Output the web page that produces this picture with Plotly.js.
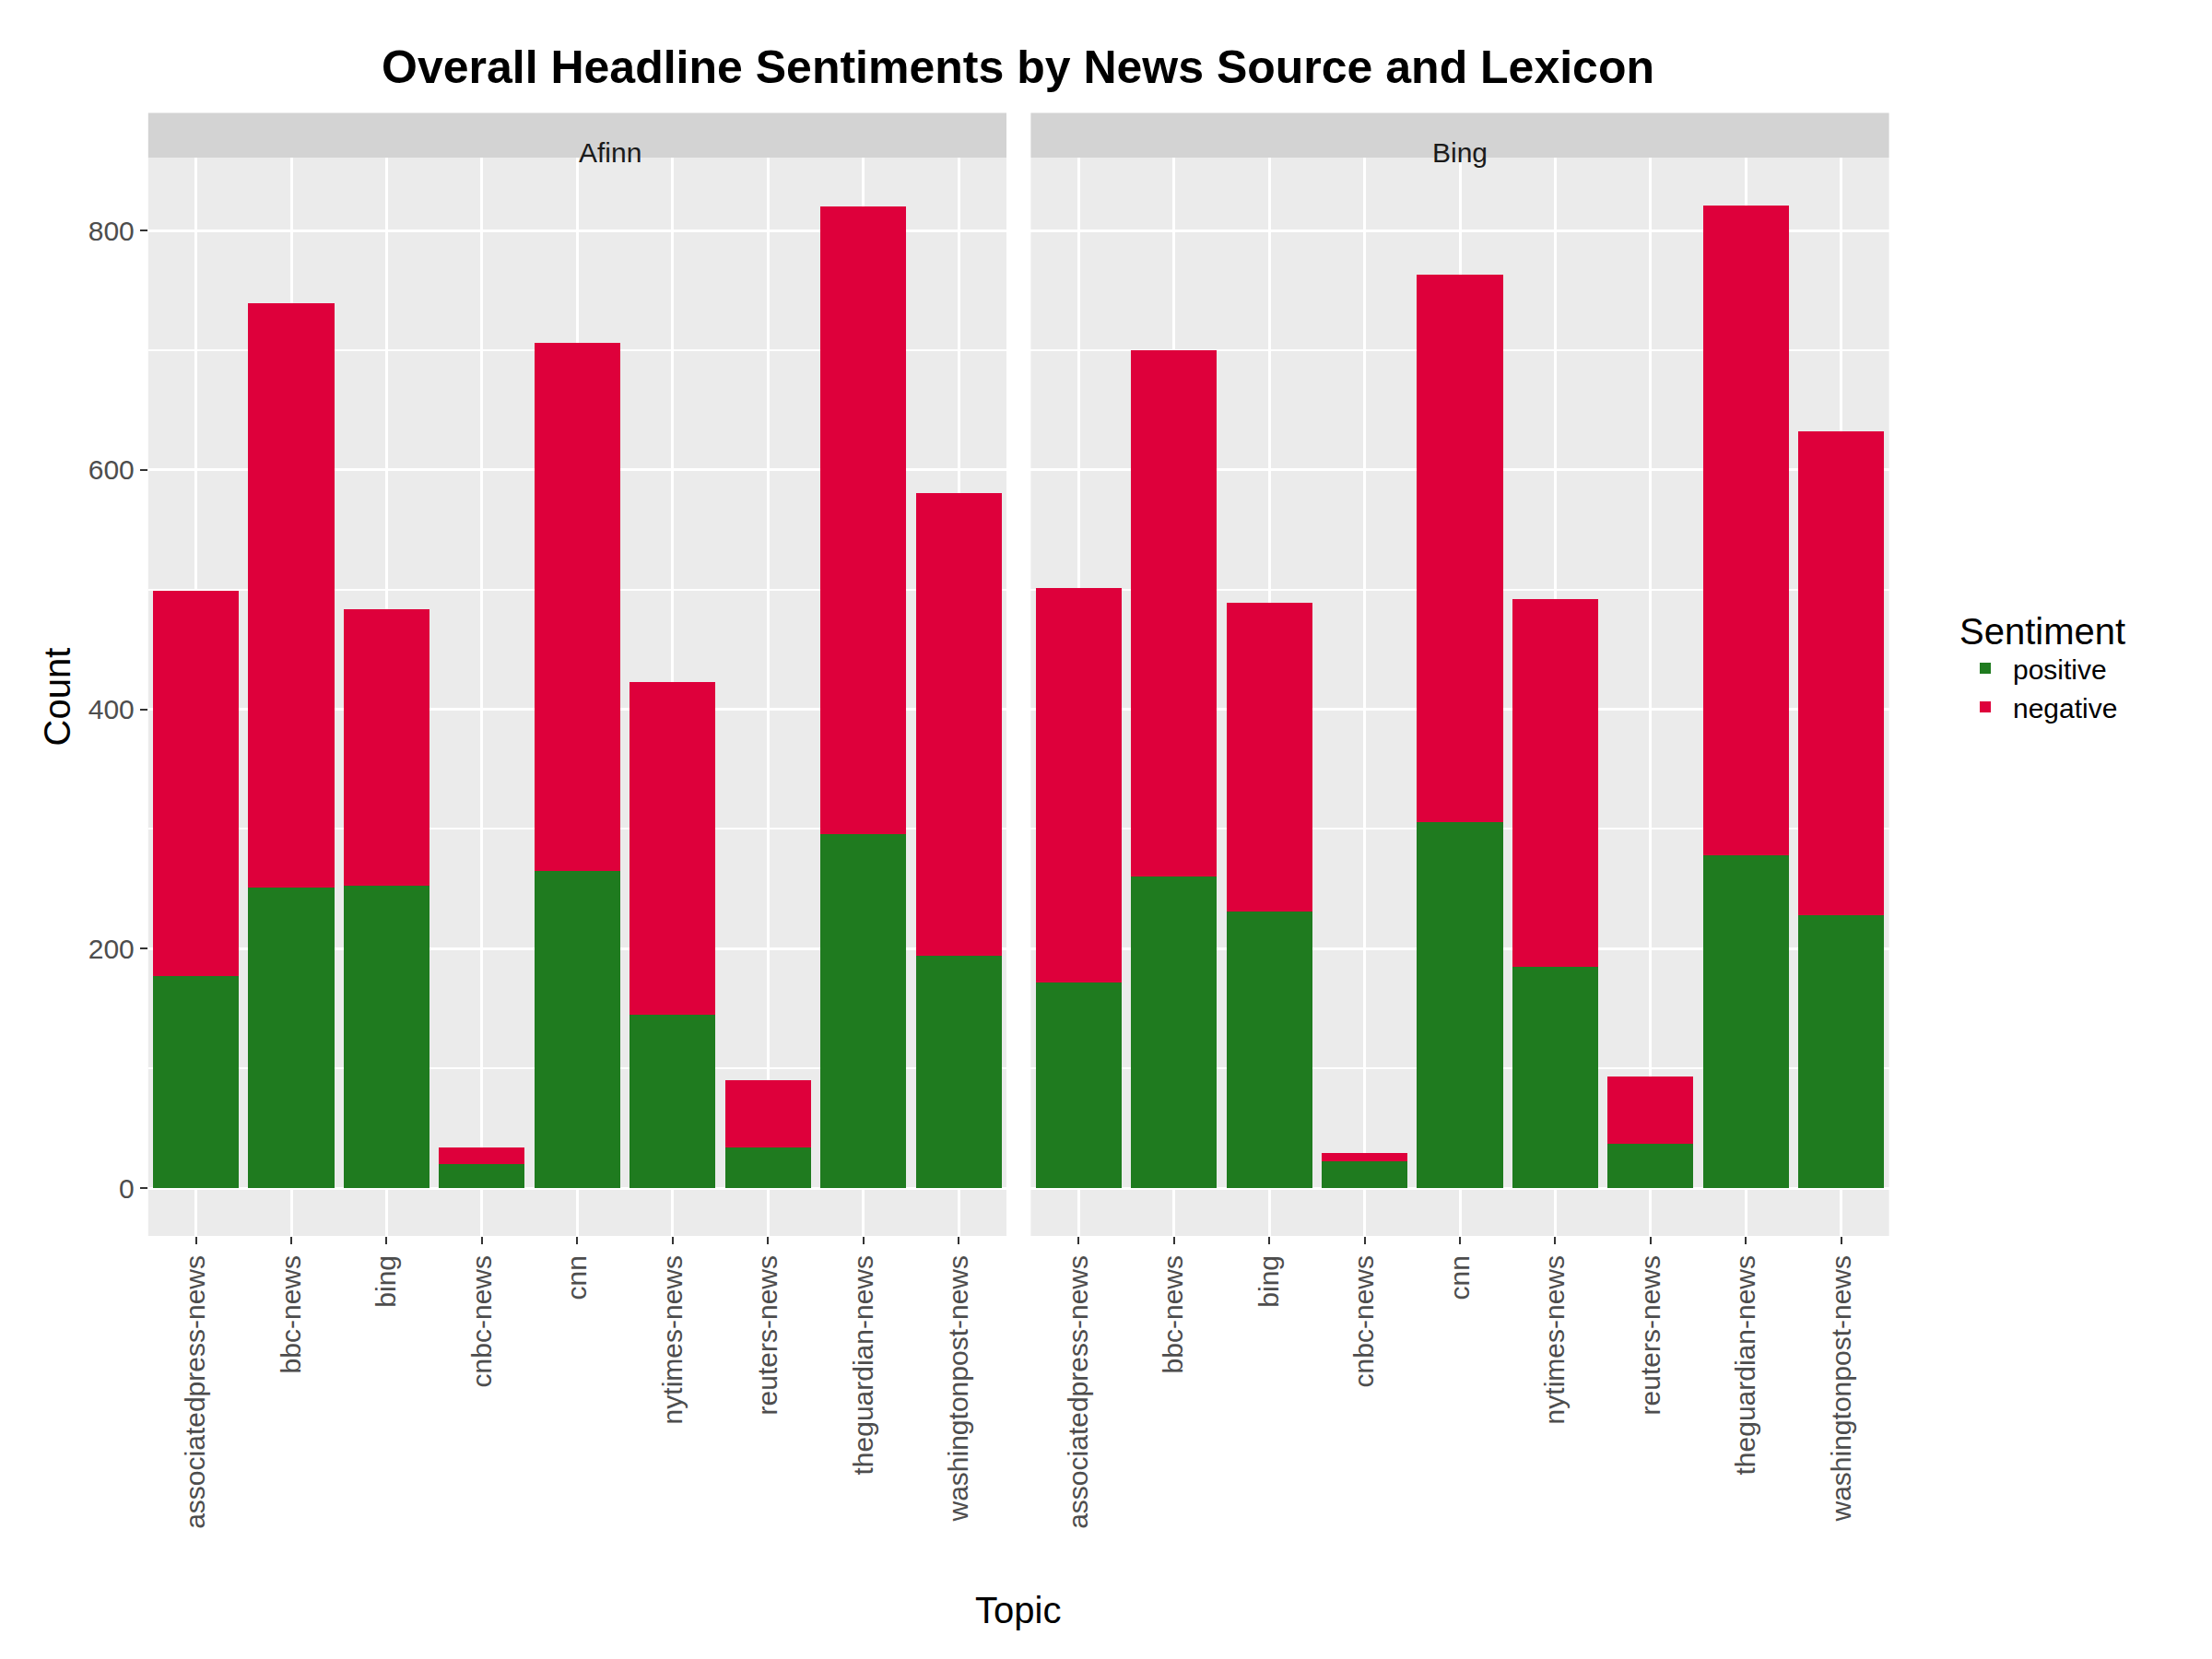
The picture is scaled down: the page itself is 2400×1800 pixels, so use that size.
<!DOCTYPE html>
<html>
<head>
<meta charset="utf-8">
<script src="https://cdn.plot.ly/plotly-3.0.1.min.js"></script>
<style>body{margin:0;background:#fff}#chart{width:2400px;height:1800px}</style>
</head>
<body>
<div id="chart"></div>
<script>
var topics = ["associatedpress-news","bbc-news","bing","cnbc-news","cnn","nytimes-news","reuters-news","theguardian-news","washingtonpost-news"];
var afinn_positive = [177, 251, 253, 20, 265, 145, 34, 296, 194];
var afinn_total    = [499, 739, 484, 34, 706, 423, 90, 820, 581];
var bing_positive  = [172, 260, 231, 22, 306, 185, 37, 278, 228];
var bing_total     = [501, 700, 489, 29, 763, 492, 93, 821, 632];

var green = "#1F7B1F", red = "#DE003B";
var font = "Liberation Sans, Arial, sans-serif";

function neg(total, pos) { return total.map(function (t, i) { return t - pos[i]; }); }

var data = [
    {type:'bar', x:topics, y:afinn_positive, name:'positive', marker:{color:green}, xaxis:'x', yaxis:'y', legendgroup:'p'},
    {type:'bar', x:topics, y:neg(afinn_total, afinn_positive), name:'negative', marker:{color:red}, xaxis:'x', yaxis:'y', legendgroup:'n'},
    {type:'bar', x:topics, y:bing_positive, name:'positive', marker:{color:green}, xaxis:'x2', yaxis:'y2', legendgroup:'p', showlegend:false},
    {type:'bar', x:topics, y:neg(bing_total, bing_positive), name:'negative', marker:{color:red}, xaxis:'x2', yaxis:'y2', legendgroup:'n', showlegend:false}
];

var xax = {
    type:'category', showgrid:true, gridcolor:'#fff', gridwidth:3, zeroline:false,
    tickangle:-90, ticks:'outside', ticklen:8, tickcolor:'#333', tickwidth:2,
    tickfont:{family:font, size:30, color:'#4D4D4D'}, showline:false
};
var yax = {
    range:[-40, 861], showgrid:true, gridcolor:'#fff', gridwidth:3, zeroline:false,
    tickvals:[0,200,400,600,800], ticks:'outside', ticklen:8, tickcolor:'#333', tickwidth:2,
    tickfont:{family:font, size:30, color:'#4D4D4D'},
    minor:{tickvals:[100,300,500,700], showgrid:true, gridcolor:'#fff', gridwidth:1.5, ticks:''}
};

var layout = {
    width:2400, height:1800,
    margin:{l:0, r:0, t:0, b:0},
    paper_bgcolor:'#fff', plot_bgcolor:'#EBEBEB',
    barmode:'stack', bargap:0.1,
    xaxis: Object.assign({}, xax, {domain:[0.067, 0.455], anchor:'y'}),
    xaxis2: Object.assign({}, xax, {domain:[0.466, 0.854], anchor:'y2'}),
    yaxis: Object.assign({}, yax, {domain:[0.255, 0.905], anchor:'x'}),
    yaxis2: Object.assign({}, yax, {domain:[0.255, 0.905], anchor:'x2', showticklabels:false, ticks:''}),
    showlegend:true,
    legend:{x:0.885, y:0.60, xanchor:'left', yanchor:'middle', traceorder:'normal',
        title:{text:'Sentiment', font:{family:font, size:40, color:'#000'}},
        font:{family:font, size:30, color:'#000'}, itemwidth:50, tracegroupgap:8},
    shapes:[
        {type:'rect', xref:'paper', yref:'paper', x0:0.067, x1:0.455, y0:0.905, y1:0.932, fillcolor:'#D3D3D3', line:{width:0}},
        {type:'rect', xref:'paper', yref:'paper', x0:0.466, x1:0.854, y0:0.905, y1:0.932, fillcolor:'#D3D3D3', line:{width:0}}
    ],
    annotations:[
        {text:'Afinn', xref:'paper', yref:'paper', x:0.261, y:0.9185, showarrow:false, font:{family:font, size:30, color:'#1A1A1A'}},
        {text:'Bing', xref:'paper', yref:'paper', x:0.66, y:0.9185, showarrow:false, font:{family:font, size:30, color:'#1A1A1A'}},
        {text:'Count', xref:'paper', yref:'paper', x:0.016, y:0.58, textangle:-90, showarrow:false, font:{family:font, size:40, color:'#000'}},
        {text:'Topic', xref:'paper', yref:'paper', x:0.46, y:0.016, showarrow:false, font:{family:font, size:40, color:'#000'}},
        {text:'<b>Overall Headline Sentiments by News Source and Lexicon</b>', xref:'paper', yref:'paper', x:0.46, y:0.976, showarrow:false, font:{family:font, size:50, color:'#000'}}
    ]
};

Plotly.newPlot('chart', data, layout, {displayModeBar:false});
</script>
</body>
</html>
